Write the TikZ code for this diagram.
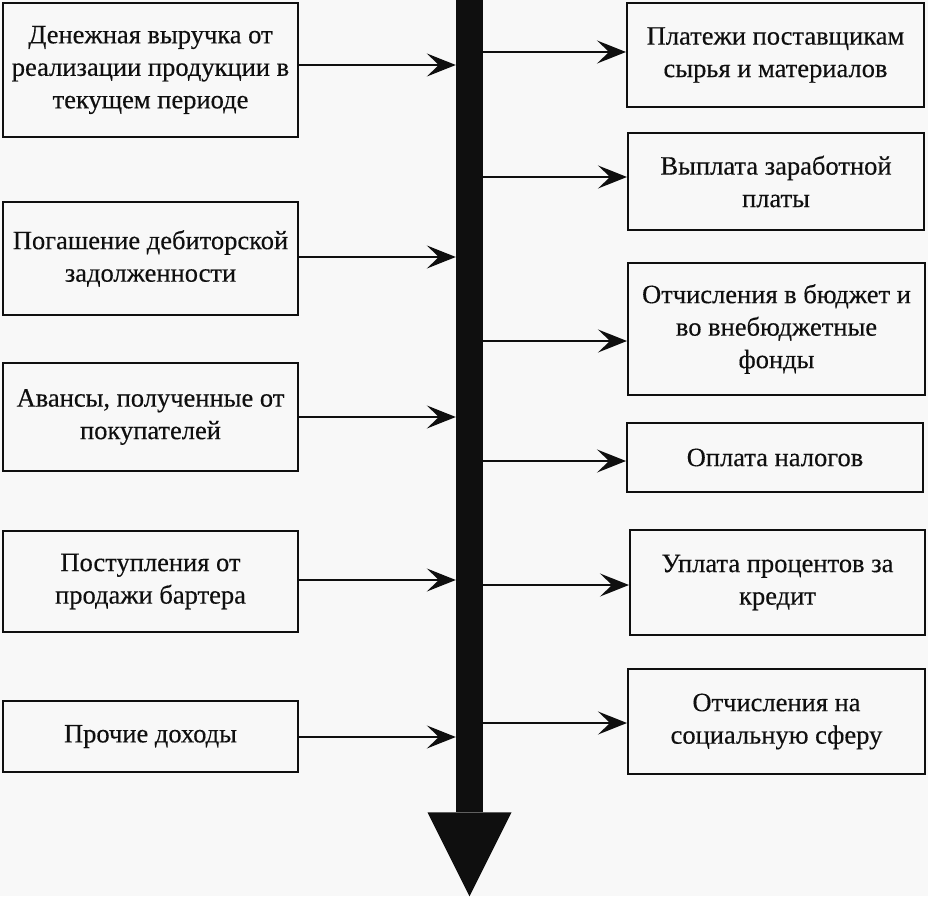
\documentclass[tikz,border=0pt]{standalone}
\usepackage{fontspec}
\setmainfont{Liberation Serif}[FakeBold=0.35]
\usetikzlibrary{arrows.meta,calc}
\definecolor{bgc}{RGB}{248,248,248}
\definecolor{ink}{RGB}{15,15,15}
\begin{document}
\begin{tikzpicture}[x=1pt,y=-1pt,
  box/.style={draw=ink,line width=2pt,align=center,inner sep=0pt,text=ink,
    font=\fontsize{26.5}{32.5}\selectfont},
  arr/.style={draw=ink,line width=2pt,-{Stealth[length=29pt,width=23pt,inset=12pt]}}]
\fill[bgc] (0,0) rectangle (928,896);
\useasboundingbox (0,0) rectangle (928,896);
% central bar
\node[fill=ink,inner sep=0pt,minimum width=27pt,minimum height=812pt,anchor=north] (bar) at (469.5,0) {};
\fill[ink] ($(bar.south)+(-42,0)$) -- ($(bar.south)+(42,0)$) -- ($(bar.south)+(0,84)$) -- cycle;
% left boxes
\node[box,minimum width=295pt,minimum height=134pt] (L1) at (150.5,70) {Денежная выручка от\\реализации продукции в\\текущем периоде};
\node[box,minimum width=295pt,minimum height=113pt] (L2) at (150.5,258.5) {Погашение дебиторской\\задолженности};
\node[box,minimum width=295pt,minimum height=108pt] (L3) at (150.5,417) {Авансы, полученные от\\покупателей};
\node[box,minimum width=295pt,minimum height=101pt] (L4) at (150.5,581.5) {Поступления от\\продажи бартера};
\node[box,minimum width=295pt,minimum height=71pt] (L5) at (150.5,736.5) {Прочие доходы};
% right boxes
\node[box,minimum width=297pt,minimum height=104pt] (R1) at (775.5,55) {Платежи поставщикам\\сырья и материалов};
\node[box,minimum width=296pt,minimum height=97pt] (R2) at (776,181.5) {Выплата заработной\\платы};
\node[box,minimum width=297pt,minimum height=132pt] (R3) at (776.5,329) {Отчисления в бюджет и\\во внебюджетные\\фонды};
\node[box,minimum width=296pt,minimum height=69pt] (R4) at (775,457.5) {Оплата налогов};
\node[box,minimum width=295pt,minimum height=105pt] (R5) at (777.5,582.5) {Уплата процентов за\\кредит};
\node[box,minimum width=297pt,minimum height=105pt] (R6) at (776.5,721.5) {Отчисления на\\социальную сферу};
% left arrows
\draw[arr] (L1.east |- 0,65) -- (bar.west |- 0,65);
\draw[arr] (L2.east |- 0,257) -- (bar.west |- 0,257);
\draw[arr] (L3.east |- 0,417) -- (bar.west |- 0,417);
\draw[arr] (L4.east |- 0,580) -- (bar.west |- 0,580);
\draw[arr] (L5.east |- 0,737) -- (bar.west |- 0,737);
% right arrows
\draw[arr] (bar.east |- 0,52) -- (R1.west |- 0,52);
\draw[arr] (bar.east |- 0,177) -- (R2.west |- 0,177);
\draw[arr] (bar.east |- 0,341) -- (R3.west |- 0,341);
\draw[arr] (bar.east |- 0,461) -- (R4.west |- 0,461);
\draw[arr] (bar.east |- 0,585) -- (R5.west |- 0,585);
\draw[arr] (bar.east |- 0,723) -- (R6.west |- 0,723);
\end{tikzpicture}
\end{document}
